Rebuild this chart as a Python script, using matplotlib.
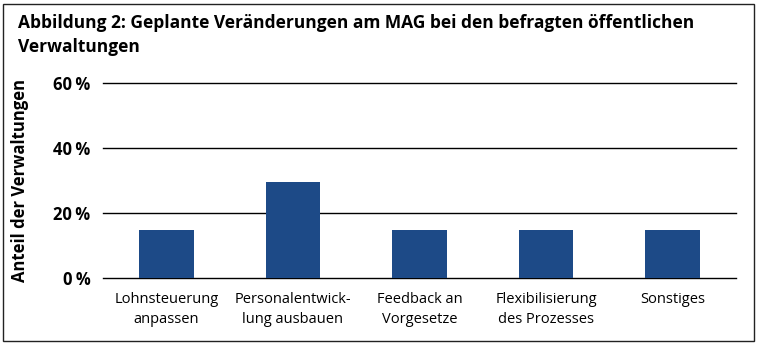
import numpy as np
import matplotlib.pyplot as plt
from matplotlib.patches import Rectangle
from matplotlib.ticker import FuncFormatter

categories = ["Lohnsteuerung\nanpassen", "Personalentwick-\nlung ausbauen", "Feedback an\nVorgesetze",
              "Flexibilisierung\ndes Prozesses", "Sonstiges"]
values = [14.8, 29.6, 14.8, 14.8, 14.8]
yticks = [0, 20, 40, 60]

title = "Abbildung 2: Geplante Veränderungen am MAG bei den befragten öffentlichen\nVerwaltungen"
ylabel = "Anteil der Verwaltungen"

plt.rcParams['font.family'] = ['Open Sans', 'DejaVu Sans']

fig = plt.figure(figsize=(7.58, 3.44), dpi=100)
ax = fig.add_axes([103/758, 1 - 278/344, (736-103)/758, (278-83)/344])

x = np.arange(len(categories))
ax.bar(x, values, width=0.43, color="#1d4a87", zorder=3)

ax.set_xlim(-0.5, len(categories) - 0.5)
ax.set_ylim(0, 60)
ax.set_yticks(yticks)
ax.yaxis.set_major_formatter(FuncFormatter(lambda v, p: "{:.0f}\u2009%".format(v)))
ax.grid(axis="y", color="black", linewidth=1.0, zorder=1)
for gl in ax.get_ygridlines():
    gl.set_clip_on(False)
ax.set_xticks(x)
ax.set_xticklabels(categories, fontsize=10.5, linespacing=1.5)
ax.tick_params(axis="both", length=0)
ax.tick_params(axis="y", pad=9, labelsize=12)
ax.tick_params(axis="x", pad=10)
for lab in ax.get_yticklabels():
    lab.set_fontweight("bold")
for s in ax.spines.values():
    s.set_visible(False)

ax.set_ylabel(ylabel, fontsize=12, fontweight="bold")
ax.yaxis.set_label_coords(-74/633, 0.5)

fig.text(18/758, 1 - 14/344, title, fontsize=12.5, fontweight="bold", ha="left", va="top", linespacing=1.45)

fig.patches.append(Rectangle((3/758, 3/344), 751/758, 337/344, transform=fig.transFigure,
                             fill=False, edgecolor="#222222", linewidth=1.0))

plt.savefig("out.png", dpi=100)
plt.close(fig)
